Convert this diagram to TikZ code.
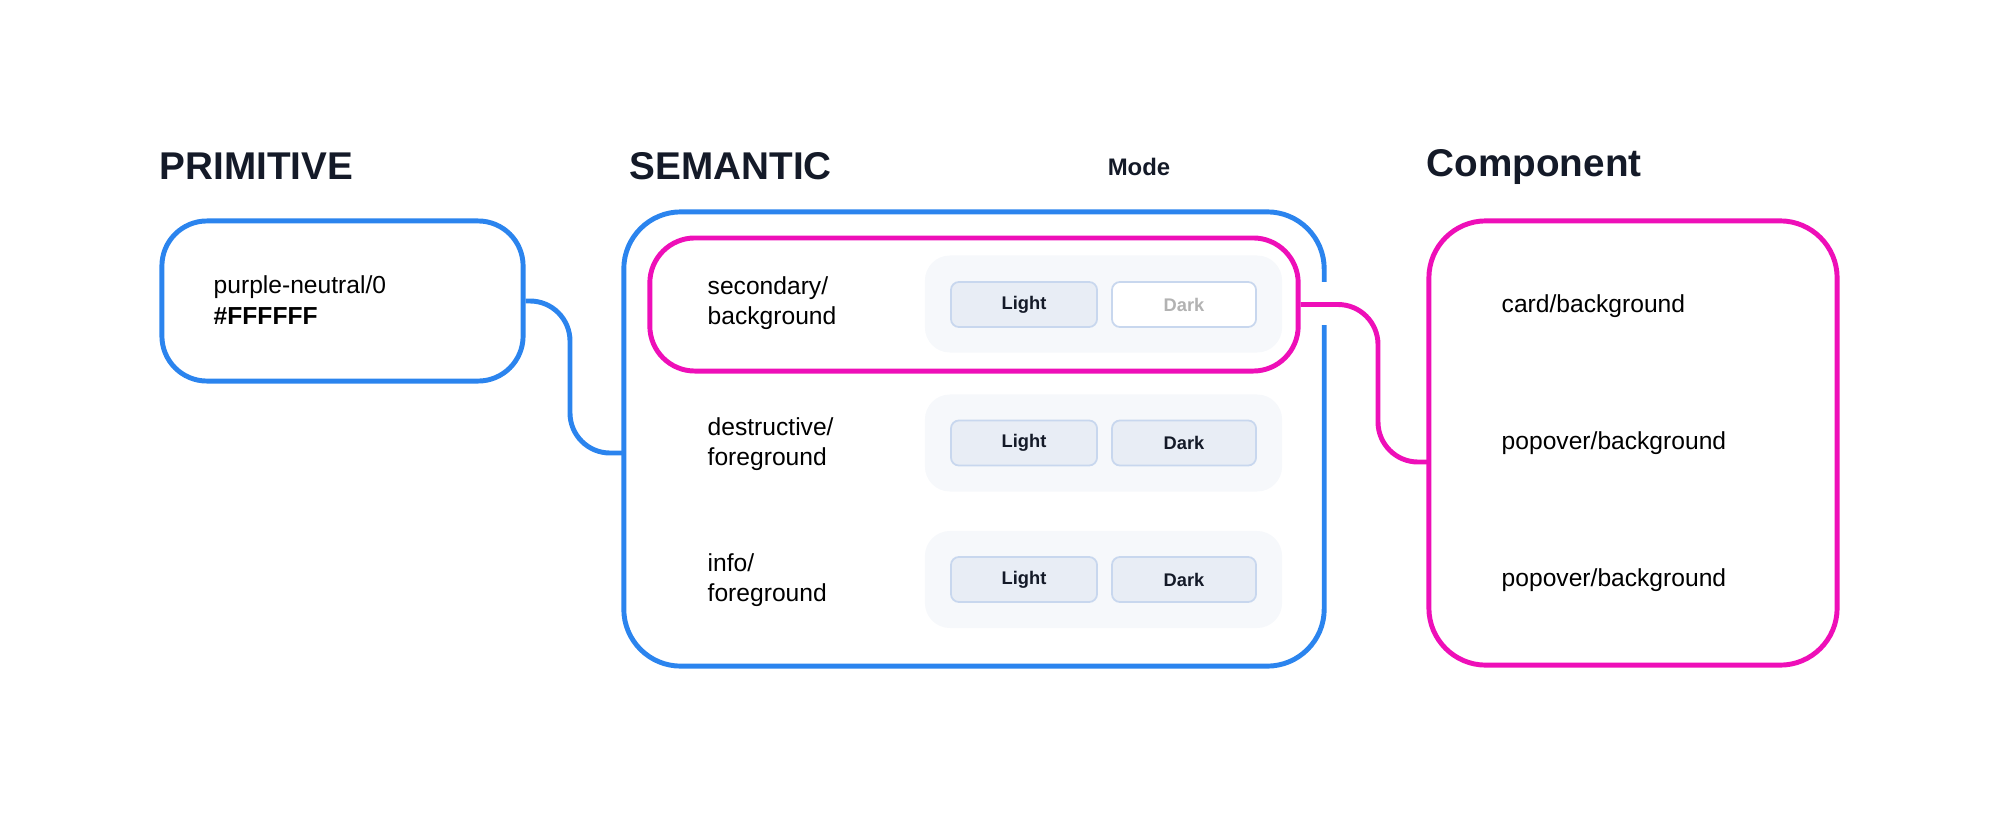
\documentclass[tikz,border=0pt]{standalone}
\usepackage{fontspec}
\setmainfont{Liberation Sans}
\definecolor{tokblue}{HTML}{2B84EE}
\definecolor{tokpink}{HTML}{EE0FB8}
\definecolor{inkdark}{HTML}{141A28}
\definecolor{panelgray}{HTML}{F6F8FB}
\definecolor{btnfill}{HTML}{E8EDF5}
\definecolor{btnline}{HTML}{C8D7EE}

\begin{document}
\begin{tikzpicture}[x=0.01cm, y=-0.01cm,
    title/.style={anchor=west, font=\bfseries\fontsize{11}{13}\selectfont, text=inkdark, inner sep=0},
    label/.style={anchor=west, align=left, font=\fontsize{7}{8.6}\selectfont, text=black, inner sep=0},
    group/.style={rectangle, rounded corners=0.57cm, draw=tokblue, line width=1.4pt},
    pick/.style={rectangle, rounded corners=0.45cm, draw=tokpink, line width=1.4pt},
    panel/.style={rectangle, rounded corners=0.25cm, fill=panelgray, minimum width=3.57cm, minimum height=0.97cm},
    btn/.style={rectangle, rounded corners=0.08cm, draw=btnline, fill=btnfill, line width=0.5pt, minimum height=0.45cm, font=\bfseries\fontsize{5.2}{6}\selectfont, text=inkdark},
    conn/.style={line width=1.4pt, rounded corners=0.4cm}
]
    \useasboundingbox (0,0) rectangle (2000,812);

    % column titles
    \node[title] (primtitle) at (159,166) {PRIMITIVE};
    \node[title] (semtitle) at (629,166) {SEMANTIC};
    \node[font=\bfseries\fontsize{6.8}{8}\selectfont, text=inkdark] (mode) at (1139,167) {Mode};
    \node[title] (comptitle) at (1426,167) {Component};

    % primitive
    \node[group, minimum width=3.61cm, minimum height=1.6cm, rounded corners=0.45cm] (prim) at (342.5,301) {};
    \node[label] (primtxt) at (213,300) {purple-neutral/0\\\textbf{\#FFFFFF}};

    % semantic
    \node[group, minimum width=7cm, minimum height=4.54cm] (sem) at (974,439) {};
    \fill[white] (1310,282) rectangle (1340,325);
    \node[panel] (panA) at (1103.5,304) {};
    \node[panel] (panB) at (1103.5,443) {};
    \node[panel] (panC) at (1103.5,579.5) {};
    \node[pick, minimum width=6.48cm, minimum height=1.33cm] (sel) at (974,304.5) {};

    \node[label] (rowA) at (707,303) {secondary/\\background};
    \node[label] (rowB) at (707,444) {destructive/\\foreground};
    \node[label] (rowC) at (707,580) {info/\\foreground};

    \node[btn, minimum width=1.46cm] (lightA) at (1024,304.5) {Light};
    \node[btn, minimum width=1.44cm, fill=white, text=black!30] (darkA) at (1184,304.5) {Dark};
    \node[btn, minimum width=1.46cm] (lightB) at (1024,443) {Light};
    \node[btn, minimum width=1.44cm] (darkB) at (1184,443) {Dark};
    \node[btn, minimum width=1.46cm] (lightC) at (1024,579.5) {Light};
    \node[btn, minimum width=1.44cm] (darkC) at (1184,579.5) {Dark};

    % component
    \node[pick, minimum width=4.08cm, minimum height=4.44cm, rounded corners=0.57cm] (comp) at (1633,443) {};
    \node[label] (cardbg) at (1501,306) {card/background};
    \node[label] (popbgA) at (1501,443) {popover/background};
    \node[label] (popbgB) at (1501,580) {popover/background};

    % connectors
    \coordinate (semin) at (624,453);
    \coordinate (compin) at (1429,462);
    \draw[conn, tokblue] (prim.east) -- (570,301) -- (570,453) -- (semin);
    \draw[conn, tokpink] (sel.east) -- (1378,304.5) -- (1378,462) -- (compin);
\end{tikzpicture}
\end{document}
